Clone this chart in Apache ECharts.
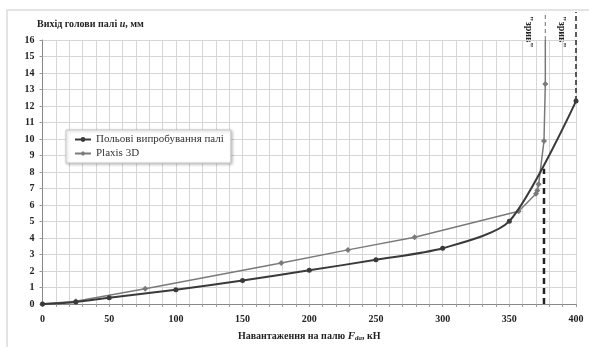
<!DOCTYPE html>
<html>
<head>
<meta charset="utf-8">
<script src="https://cdn.jsdelivr.net/npm/echarts@6/dist/echarts.min.js"></script>
<style>html,body{margin:0;padding:0;background:#fff}#c{width:589px;height:347px}</style>
</head>
<body>
<div id="c"></div>
<script>
// Field test of pile (load kN, displacement mm)
const fieldLoads = [0, 25, 50, 100, 150, 200, 250, 300, 350, 400];
const fieldDisp  = [0, 0.12, 0.38, 0.86, 1.42, 2.04, 2.68, 3.38, 5.02, 12.3];
// Plaxis 3D
const plaxisLoads = [0, 25, 77, 179, 229, 279, 357, 370, 371, 372, 376, 377];
const plaxisDisp  = [0, 0.17, 0.92, 2.48, 3.28, 4.04, 5.62, 6.68, 6.88, 7.26, 9.88, 13.34];
// failure ("зрив") markers
const failPlaxisLoad = 377;
const failFieldLoad = 400;
const failFieldDashLoad = 376;
const failFieldDashTop = 8.2;
const yTop = 16, yBeyond = 17.7;
const xTicks = [0, 50, 100, 150, 200, 250, 300, 350, 400];

const serif = '"Liberation Serif", "DejaVu Serif", serif';
const chart = echarts.init(document.getElementById('c'));
const zip = (a, b) => a.map((v, i) => [v, b[i]]);

chart.setOption({
  animation: false,
  backgroundColor: '#fff',
  grid: {left: 42.5, right: 13, top: 40, bottom: 40},
  xAxis: {
    type: 'value', min: 0, max: 400, interval: 10,
    axisLine: {lineStyle: {color: '#888', width: 1}},
    axisTick: {show: true, length: 3, lineStyle: {color: '#999'}},
    splitLine: {show: true, lineStyle: {color: '#d6d6d6', width: 1}},
    axisLabel: {
      formatter: v => xTicks.includes(v) ? String(v) : '',
      fontFamily: serif, fontWeight: 'bold', fontSize: 10, color: '#222', margin: 10
    },
    name: '{b|Навантаження на палю }{i|F}{s|da}{b|, кН}',
    nameLocation: 'middle', nameGap: 26,
    nameTextStyle: {
      rich: {
        b: {fontFamily: serif, fontWeight: 'bold', fontSize: 10, color: '#222'},
        i: {fontFamily: serif, fontWeight: 'bold', fontStyle: 'italic', fontSize: 11, color: '#222'},
        s: {fontFamily: serif, fontWeight: 'bold', fontStyle: 'italic', fontSize: 7, color: '#222', verticalAlign: 'bottom', padding: [5, 0, 0, 0]}
      }
    }
  },
  yAxis: {
    type: 'value', min: 0, max: 16, interval: 1,
    axisLine: {show: true, lineStyle: {color: '#888', width: 1}},
    axisTick: {show: true, length: 3, lineStyle: {color: '#999'}},
    splitLine: {show: true, lineStyle: {color: '#d6d6d6', width: 1}},
    axisLabel: {fontFamily: serif, fontWeight: 'bold', fontSize: 10, color: '#222', margin: 8}
  },
  legend: {
    left: 66, top: 130, orient: 'vertical',
    backgroundColor: '#fff', borderColor: '#c8c8c8', borderWidth: 1,
    shadowColor: 'rgba(0,0,0,0.25)', shadowBlur: 3, shadowOffsetX: 1, shadowOffsetY: 1,
    padding: [4, 7, 4, 8], itemGap: 3, itemWidth: 16, itemHeight: 6,
    textStyle: {fontFamily: serif, fontSize: 11, color: '#333'},
    data: ['Польові випробування палі', 'Plaxis 3D']
  },
  graphic: [
    {type: 'rect', silent: true, z: -10, shape: {x: 7, y: 10, width: 590, height: 345},
     style: {fill: 'none', stroke: '#dcdcdc', lineWidth: 1.5}},
    {type: 'text', left: 37, top: 19,
     style: {rich: {
       b: {fontFamily: serif, fontWeight: 'bold', fontSize: 10, fill: '#222'},
       i: {fontFamily: serif, fontWeight: 'bold', fontStyle: 'italic', fontSize: 10, fill: '#222'}
     }, text: '{b|Вихід голови палі }{i|u}{b|, мм}'}},
    {type: 'text', x: 529, y: 32, rotation: -Math.PI / 2,
     style: {text: '"зрив"', fontFamily: serif, fontWeight: 'bold', fontSize: 10, fill: '#222', align: 'center', verticalAlign: 'middle'}},
    {type: 'text', x: 562, y: 32, rotation: -Math.PI / 2,
     style: {text: '"зрив"', fontFamily: serif, fontWeight: 'bold', fontSize: 10, fill: '#222', align: 'center', verticalAlign: 'middle'}}
  ],
  series: [
    {
      name: 'Польові випробування палі', type: 'line', smooth: 0.25,
      data: zip(fieldLoads, fieldDisp),
      symbol: 'circle', symbolSize: 5,
      lineStyle: {color: '#3a3a3a', width: 2}, itemStyle: {color: '#3a3a3a'}, z: 4
    },
    {
      name: 'Plaxis 3D', type: 'line',
      data: zip(plaxisLoads, plaxisDisp),
      symbol: 'diamond', symbolSize: 6,
      lineStyle: {color: '#7a7a7a', width: 1.5}, itemStyle: {color: '#7a7a7a'}, z: 3
    },
    {
      type: 'line', data: [[failPlaxisLoad, plaxisDisp[plaxisDisp.length - 1]], [failPlaxisLoad, yTop]],
      symbol: 'none', lineStyle: {color: '#7a7a7a', width: 1.5}, z: 2, silent: true
    },
    {
      type: 'line', clip: false, data: [[failPlaxisLoad, yTop], [failPlaxisLoad, yBeyond]],
      symbol: 'none', lineStyle: {color: '#8a8a8a', width: 1.2, type: [4, 3]}, z: 2, silent: true
    },
    {
      type: 'line', clip: false, data: [[failFieldLoad, fieldDisp[fieldDisp.length - 1]], [failFieldLoad, yBeyond]],
      symbol: 'none', lineStyle: {color: '#333', width: 1.6, type: [5, 3]}, z: 2, silent: true
    },
    {
      type: 'line', data: [[failFieldDashLoad, 0], [failFieldDashLoad, failFieldDashTop]],
      symbol: 'none', lineStyle: {color: '#222', width: 2.5, type: [6, 4]}, z: 5, silent: true
    }
  ]
});
</script>
</body>
</html>
